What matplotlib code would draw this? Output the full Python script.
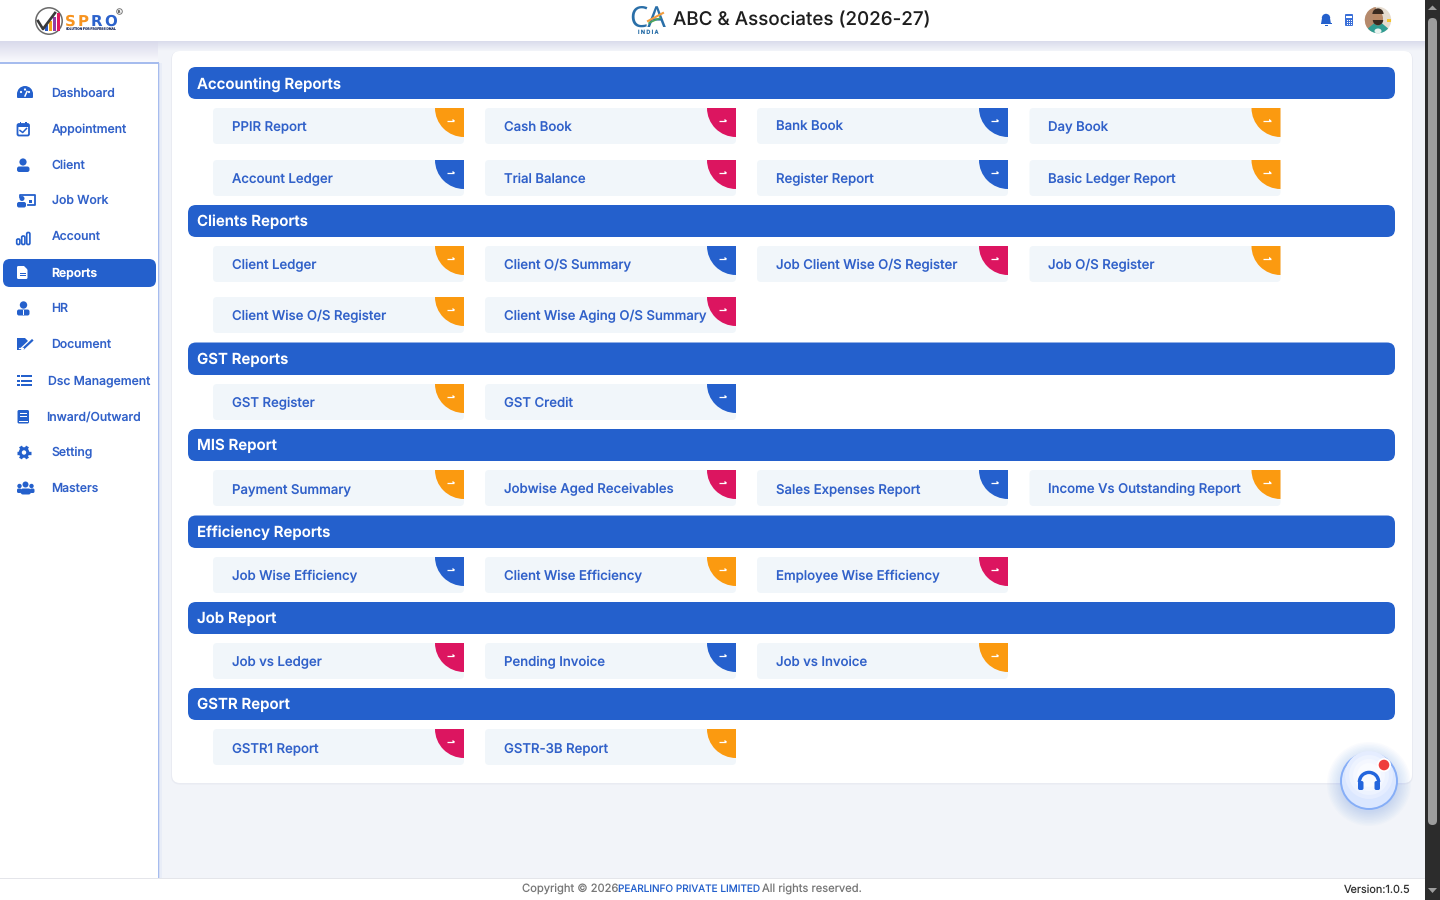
import matplotlib
matplotlib.use("Agg")
import matplotlib.pyplot as plt
import numpy as np
from matplotlib.patches import FancyBboxPatch, Rectangle, Circle, Wedge, Polygon, Ellipse

# ---------- content ----------
section_titles = ["Accounting Reports", "Clients Reports", "GST Reports", "MIS Report",
                  "Efficiency Reports", "Job Report", "GSTR Report"]
accounting_items = ["PPIR Report", "Cash Book", "Bank Book", "Day Book",
                    "Account Ledger", "Trial Balance", "Register Report", "Basic Ledger Report"]
accounting_tags = ["o", "r", "b", "o", "b", "r", "b", "o"]
clients_items = ["Client Ledger", "Client O/S Summary", "Job Client Wise O/S Register", "Job O/S Register",
                 "Client Wise O/S Register", "Client Wise Aging O/S Summary"]
clients_tags = ["o", "b", "r", "o", "o", "r"]
gst_items = ["GST Register", "GST Credit"]
gst_tags = ["o", "b"]
mis_items = ["Payment Summary", "Jobwise Aged Receivables", "Sales Expenses Report", "Income Vs Outstanding Report"]
mis_tags = ["o", "r", "b", "o"]
efficiency_items = ["Job Wise Efficiency", "Client Wise Efficiency", "Employee Wise Efficiency"]
efficiency_tags = ["b", "o", "r"]
job_items = ["Job vs Ledger", "Pending Invoice", "Job vs Invoice"]
job_tags = ["r", "b", "o"]
gstr_items = ["GSTR1 Report", "GSTR-3B Report"]
gstr_tags = ["r", "o"]
menu_items = ["Dashboard", "Appointment", "Client", "Job Work", "Account", "Reports", "HR",
              "Document", "Dsc Management", "Inward/Outward", "Setting", "Masters"]

# ---------- layout ----------
BLUE = "#2460cc"
TXT = "#3161c9"
tag_colors = {"o": "#fb9a10", "r": "#dc1560", "b": "#2560cd"}
FONT = ["Inter", "DejaVu Sans"]
plt.rcParams["font.family"] = FONT
plt.rcParams["text.hinting"] = "none"
plt.rcParams["text.hinting_factor"] = 1

section_tops = [67, 205, 342.5, 429, 515.5, 602, 688]
section_heights = [32, 32, 32.5, 32, 32.5, 32, 32]
card_rows = [[108, 160], [246, 297], [384], [470], [557], [643], [729]]
card_xs = [213, 485, 757, 1029.5]
card_w, card_h, tag_r = 251, 36, 29
menu_ys = [93, 129, 165, 200, 236, 272, 308, 344, 380, 416, 452, 488]
menu_xs = [51.6, 51.6, 51.6, 51.6, 51.6, 51.6, 51.6, 51.6, 48.5, 46, 51.6, 51.6]

fig = plt.figure(figsize=(14.4, 9), dpi=100, facecolor="#f2f4f9")
ax = fig.add_axes([0, 0, 1, 1])
ax.set_xlim(0, 1440)
ax.set_ylim(900, 0)
ax.axis("off")


def rrect(x, y, w, h, r, fc, ec="none", lw=0, z=2, alpha=None):
    p = FancyBboxPatch((x, y), w, h, boxstyle=f"round,pad=0,rounding_size={r}",
                       fc=fc, ec=ec, lw=lw, zorder=z, alpha=alpha, mutation_aspect=1)
    ax.add_patch(p)
    return p


def rect(x, y, w, h, fc, z=2, alpha=None):
    ax.add_patch(Rectangle((x, y), w, h, fc=fc, ec="none", zorder=z, alpha=alpha))


def circ(x, y, r, fc, ec="none", lw=0, z=6, alpha=None):
    ax.add_patch(Circle((x, y), r, fc=fc, ec=ec, lw=lw, zorder=z, alpha=alpha))


def txt(x, y, s, px, color=TXT, weight="normal", ha="left", z=8, **kw):
    """y is the text baseline."""
    return ax.text(x, y, s, fontsize=px * 0.72, color=color, fontweight=weight, ha=ha,
                   va="baseline", zorder=z, **kw)


def vgrad(x, y, w, h, c0, c1, z=1):
    c0 = np.array(matplotlib.colors.to_rgb(c0))
    c1 = np.array(matplotlib.colors.to_rgb(c1))
    t = np.linspace(0, 1, 32)[:, None, None]
    ax.imshow(c0 * (1 - t) + c1 * t, extent=(x, x + w, y + h, y), aspect="auto", zorder=z,
              interpolation="bilinear")


# ---------- page chrome ----------
rect(0, 0, 1440, 900, "#f2f4f9", z=0)
vgrad(0, 41, 1425, 10, "#dadcec", "#f2f4f9", z=1)
vgrad(0, 41, 158, 22, "#d9daeb", "#fbfbfe", z=1.2)
ax.set_xlim(0, 1440)
ax.set_ylim(900, 0)
rect(0, 0, 1425, 41, "white", z=3)

# sidebar
rect(0, 63, 158, 816, "white", z=2)
rect(157.6, 63, 1.2, 816, "#a6bcee", z=2.1)
rect(158.8, 63, 1.4, 816, "#d7dff4", z=2.05)
rect(160.2, 63, 1.6, 816, "#e9edf7", z=2.04)
rect(0, 62, 158.8, 1.5, "#a6bcee", z=2.1)

# content panel
rrect(171, 51, 1242, 733.5, 9, "#e9ebf2", z=1.6)
rrect(172, 51, 1240, 732, 8, "white", z=2)

# sections
all_items = [accounting_items, clients_items, gst_items, mis_items, efficiency_items, job_items, gstr_items]
all_tags = [accounting_tags, clients_tags, gst_tags, mis_tags, efficiency_tags, job_tags, gstr_tags]
for title, top, hgt, rows, items, tags in zip(section_titles, section_tops, section_heights,
                                              card_rows, all_items, all_tags):
    rrect(188, top, 1207, hgt, 8, BLUE, z=3)
    txt(197, top + hgt / 2 + 5.3, title, 15, color="white", weight="semibold")
    for i, (name, tag) in enumerate(zip(items, tags)):
        cx = card_xs[i % 4]
        cy = rows[i // 4]
        rrect(cx, cy, card_w, card_h, 4, "#f1f6fa", z=3)
        col = tag_colors[tag]
        ax.add_patch(Wedge((cx + card_w, cy), tag_r, 90, 180, fc=col, ec="none", zorder=4))
        ax.plot([cx + card_w - 17.5, cx + card_w - 10], [cy + 12.5, cy + 12.5], color="white", lw=0.9, zorder=5,
                solid_capstyle="butt")
        ax.add_patch(Polygon([[cx + card_w - 9, cy + 12.5], [cx + card_w - 11.5, cy + 10.9],
                              [cx + card_w - 11.5, cy + 14.1]], fc="white", ec="none", zorder=5))
        txt(cx + 18.6, cy + 23.2, name, 13.2, color=TXT, weight="medium", z=6)

# sidebar menu
rrect(3, 259, 153, 28, 7, BLUE, z=3)
for name, x, y in zip(menu_items, menu_xs, menu_ys):
    active = name == "Reports"
    txt(x, y + 4.2, name, 12.2, color="white" if active else TXT, weight="semibold" if active else "medium", z=6)

IC = BLUE
# dashboard gauge
ax.add_patch(Wedge((25, 94), 8, 180, 360, fc=IC, ec="none", zorder=6))
rrect(17, 93, 16, 5, 1, IC, z=6)
for px_, py_ in [(21, 92), (25, 89.5), (29, 92)]:
    circ(px_, py_, 1.1, "white", z=7)
ax.plot([25, 27], [96, 91.5], color="white", lw=1.1, zorder=7)
# appointment
rrect(17.5, 124, 11.5, 11.5, 1.5, "white", ec=IC, lw=1.3, z=6)
rect(17.5, 124, 11.5, 3, IC, z=6)
ax.plot([20, 22.7, 26.5], [130.5, 132.5, 128.5], color=IC, lw=1.1, zorder=7)
rect(19.7, 122, 1.4, 3, IC, z=6)
rect(25.4, 122, 1.4, 3, IC, z=6)
# client
circ(23, 162, 3.6, IC)
rrect(17, 166.5, 12.5, 5.5, 2.2, IC, z=6)
# job work
circ(22, 198.5, 2.5, IC)
rrect(17, 202, 9, 5.5, 2, IC, z=6)
ax.plot([20, 20, 34.5, 34.5, 28], [197, 194.5, 194.5, 205, 205], color=IC, lw=1.3, zorder=6)
rect(29, 200, 3, 3, IC, z=6)
# account bars
for bx, bh in zip([18, 23, 28], [5.5, 8.5, 12]):
    rrect(bx - 1.3, 244.5 - bh, 3.2, bh, 1.4, "white", ec=IC, lw=1.2, z=6)
# reports
rrect(17, 266, 10.5, 13, 1.4, "white", z=6)
ax.add_patch(Polygon([[24, 265.5], [28, 265.5], [28, 269.5]], fc=BLUE, zorder=6.5))
rect(19.5, 272.5, 6, 1.3, BLUE, z=7)
rect(19.5, 275, 6, 1.3, BLUE, z=7)
# HR
circ(23.5, 305, 3.7, IC)
rrect(17, 309.5, 12.5, 6, 2, IC, z=6)
rect(23, 310, 1.2, 5, "white", z=7)
# document
ax.add_patch(Polygon([[17, 338], [25, 338], [28, 341], [28, 344], [24, 350], [17, 350]], fc=IC, zorder=6))
ax.plot([23, 32], [348.5, 340], color="white", lw=3, zorder=6.3)
ax.plot([24, 32], [348, 340.5], color=IC, lw=1.6, zorder=6.5)
ax.plot([19, 23], [348, 348], color="white", lw=0.9, zorder=7)
# list
for ly in [376, 380.5, 385]:
    rect(17, ly - 1, 2.6, 2.4, IC, z=6)
    rect(21, ly - 0.8, 10.5, 1.9, IC, z=6)
# book
rrect(17.5, 410, 11.5, 13.5, 1.5, IC, z=6)
rect(20, 413, 6.5, 1.2, "white", z=7)
rect(20, 415.5, 6.5, 1.2, "white", z=7)
rect(18.5, 420.5, 9.5, 1.2, "white", z=7)
# gear
circ(24, 452.5, 5.3, IC)
for a in np.arange(0, 360, 60):
    ax.plot([24, 24 + 7 * np.cos(np.radians(a))], [452.5, 452.5 + 7 * np.sin(np.radians(a))],
            color=IC, lw=2.4, zorder=6, solid_capstyle="butt")
circ(24, 452.5, 2.2, "white", z=7)
# masters
circ(25.5, 484.5, 3, IC)
circ(19.5, 486, 2.2, IC)
circ(31.5, 486, 2.2, IC)
rrect(20.5, 488.5, 10.5, 6, 2.5, IC, z=6)
rrect(17, 488.5, 4.5, 4.5, 1.5, IC, z=6)
rrect(30, 488.5, 4.5, 4.5, 1.5, IC, z=6)

# header logo
circ(49, 21, 13.2, "white", ec="#6a6a6a", lw=1.1)
for bx, bh, bc in zip([44.5, 48.5, 52.5, 56.5],
                      [6, 10, 14, 18], ["#2b59c3", "#f5a31a", "#8e3fa8", "#e0185f"]):
    rect(bx, 30.5 - bh, 3, bh, bc, z=7)
ax.plot([38, 43, 55], [21, 29, 13], color="#3a3a3a", lw=1.9, zorder=8)
logo_letters = ["S", "P", "R", "O"]
logo_x = [65, 78, 90.5, 104.5]
logo_colors = ["#f7931e", "#f7931e", "#2b62cc", "#2b62cc"]
for ch, lx, lc in zip(logo_letters, logo_x, logo_colors):
    ax.text(lx, 26, ch, fontsize=15 * 0.72, color=lc, fontweight="bold", family="DejaVu Sans",
            ha="left", va="baseline", zorder=8)
txt(65, 29.8, "SOLUTION FOR PROFESSIONAL", 3.3, color="#30406e", weight="bold")
circ(119.5, 11.5, 2.8, "white", ec="#777777", lw=0.7)
txt(119.5, 12.7, "R", 3.5, color="#555555", weight="bold", ha="center")

# CA logo + title
ax.text(647.5, 27, "CA", fontsize=29 * 0.72, color="#2a6fa8", family="Noto Sans",
        ha="center", va="baseline", zorder=8)
ax.plot([648, 663], [21, 13], color="#f39c3d", lw=1.5, zorder=9)
ax.plot([649, 660], [23, 18], color="#4aa85a", lw=1.1, zorder=9)
txt(648, 33.5, "I N D I A", 5.4, color="#2a6fa8", ha="center", weight="medium")
txt(673, 25, "ABC & Associates (2026-27)", 18.8, color="#1e1e1e", weight="medium")

# bell, calculator, avatar
ax.add_patch(Wedge((1326, 18), 4.2, 180, 360, fc=IC, zorder=6))
ax.add_patch(Polygon([[1321, 24], [1331, 24], [1330, 18], [1322, 18]], fc=IC, zorder=6))
rect(1320.5, 23, 11, 1.4, IC, z=6)
rect(1324.5, 25, 3, 1.2, IC, z=6)
rrect(1345, 14, 8, 12, 1, "#3a6fd8", z=6)
rect(1346, 15.5, 6, 2.4, "white", z=7)
for gy in [20, 22, 24]:
    for gx in [1346.5, 1348.6, 1350.7]:
        rect(gx, gy - .5, 1, 1, "white", z=7)
circ(1378, 20, 13.2, "#e6dccf")
ax.add_patch(Wedge((1378, 20), 13.2, 120, 260, fc="#b58a6c", zorder=6.1))
ax.add_patch(Wedge((1378, 20), 13.2, 40, 140, fc="#2f9c92", zorder=6.2))
ax.add_patch(Ellipse((1378, 31), 7, 5, fc="#e9f3ef", zorder=6.25))
ax.add_patch(Ellipse((1378, 18.5), 10, 14, fc="#b88866", zorder=6.4))
ax.add_patch(Wedge((1378, 14), 5.6, 180, 360, fc="#3a2a20", zorder=6.5))
ax.add_patch(Wedge((1378, 20), 5.2, 0, 180, fc="#3a2a20", zorder=6.5))
rect(1376, 22.5, 4, 0.9, "#b88866", z=6.6)
rect(1387, 18.5, 4, 3, "#f4c32c", z=6.6)

# footer
rect(0, 878, 1425, 1, "#e4e5ea", z=3)
rect(0, 879, 1425, 21, "white", z=3)
txt(522, 892.4, "Copyright © 2026.", 11.2, color="#777777", z=8)
txt(618, 892.4, "PEARLINFO PRIVATE LIMITED", 10, color=BLUE, z=8)
txt(761.5, 892.4, "All rights reserved.", 11.2, color="#777777", z=8)
txt(1411, 892.4, "Version:1.0.5", 10.9, color="#333333", ha="right", z=8)

# scrollbar
rect(1425, 0, 15, 900, "#2c2c2c", z=9)
rrect(1428, 18, 9, 807, 4.5, "#9e9e9e", z=10)
ax.add_patch(Polygon([[1428, 10], [1437, 10], [1432.5, 5.5]], fc="#9e9e9e", zorder=10))
ax.add_patch(Polygon([[1428, 888], [1437, 888], [1432.5, 893]], fc="#9e9e9e", zorder=10))

# floating help button
for r_ in np.arange(42, 28, -1.5):
    circ(1369, 784, r_, "#5a8ff0", z=11, alpha=0.028)
circ(1369, 781, 28, "#dbe7ff", ec="#86aef7", lw=1.4, z=12)
for r_, c_ in zip([24, 20, 16, 12], ["#e5edff", "#edf3ff", "#f4f7ff", "#f9fbff"]):
    ax.add_patch(Circle((1369, 775), r_, fc=c_, ec="none", zorder=12.1))
ax.add_patch(Wedge((1369, 782), 11.3, 180, 360, width=3.4, fc="#2466dd", ec="none", zorder=13))
rrect(1358, 781, 5.5, 9, 1.8, "#2466dd", z=13)
rrect(1374.5, 781, 5.5, 9, 1.8, "#2466dd", z=13)
circ(1384, 765, 7, "white", z=13)
circ(1384, 765, 5.3, "#ef3c3c", z=14)

fig.savefig("out.png", dpi=100, facecolor=fig.get_facecolor())
